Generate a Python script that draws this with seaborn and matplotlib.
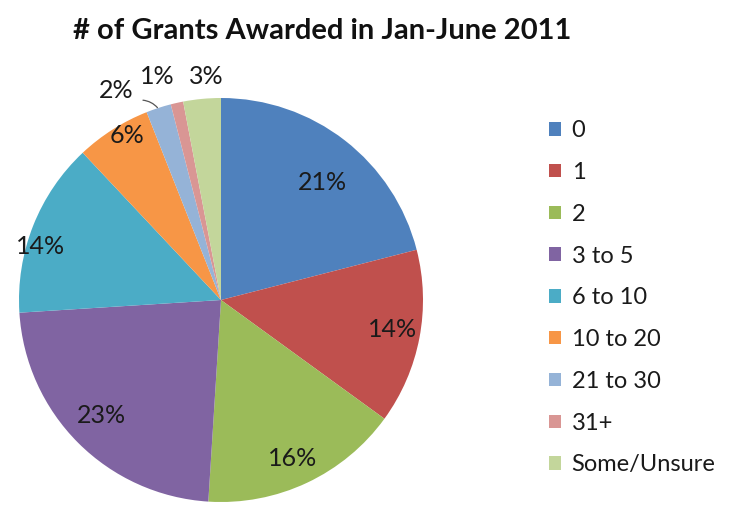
import numpy as np
import matplotlib
matplotlib.use("Agg")
import matplotlib.pyplot as plt
import seaborn as sns

# Survey data: number of grants awarded, Jan-June 2011
categories = ["0", "1", "2", "3 to 5", "6 to 10", "10 to 20", "21 to 30", "31+", "Some/Unsure"]
shares = [21, 14, 16, 23, 14, 6, 2, 1, 3]
colors = ["#4F81BD", "#C0504D", "#9BBB59", "#8064A2", "#4BACC6",
          "#F79646", "#95B3D7", "#D99694", "#C3D69B"]

# radial placement of each percentage label (fraction of radius)
label_dist = [0.77, 0.86, 0.86, 0.82, 0.93, 0.94, 1.16, 1.15, 1.11]
label_turn = [-3, 1, -1, -1, 5, -2.6, 8.6, 3.4, -1.6]  # angular nudges, degrees

sns.set_theme(style="white")
plt.rcParams["font.family"] = ["Lato", "DejaVu Sans"]

fig = plt.figure(figsize=(7.37, 5.12), dpi=100)
fig.patch.set_facecolor("white")

R = 202
cx, cy = 221, 512 - 300
ax = fig.add_axes([(cx - R) / 737, (cy - R) / 512, 2 * R / 737, 2 * R / 512])

palette = sns.color_palette(colors)
wedges, _ = ax.pie(shares, colors=palette, startangle=90, counterclock=False,
                   wedgeprops=dict(linewidth=0, edgecolor="white"), radius=1.0)
ax.set_xlim(-1, 1)
ax.set_ylim(-1, 1)
ax.set_aspect("equal")
ax.axis("off")

for w, v, d, t in zip(wedges, shares, label_dist, label_turn):
    mid = np.deg2rad((w.theta1 + w.theta2) / 2 + t)
    x, y = d * np.cos(mid), d * np.sin(mid)
    ax.text(x, y, f"{v}%", ha="center", va="center", fontsize=18,
            color="#1a1a1a", clip_on=False)

# leader line for the 2% slice
w2 = wedges[6]
a2 = np.deg2rad((w2.theta1 + w2.theta2) / 2)
ex, ey = 0.99 * np.cos(a2), 0.99 * np.sin(a2)
ax.annotate("", xy=(ex, ey), xytext=(-0.40, 0.99),
            arrowprops=dict(arrowstyle="-", color="#555555", lw=0.9,
                            connectionstyle="arc3,rad=-0.25"),
            annotation_clip=False)

fig.text(322 / 737, 1 - 31 / 512, "# of Grants Awarded in Jan-June 2011",
         ha="center", va="center", fontsize=21, fontweight="bold", color="#111111")

handles = [plt.Rectangle((0, 0), 1, 1, facecolor=c, edgecolor="none") for c in palette]
fig.legend(handles, categories, loc="upper left",
           bbox_to_anchor=(528 / 737, 1 - 99 / 512), frameon=False,
           fontsize=17, handlelength=0.5, handleheight=0.5,
           handletextpad=0.45, labelspacing=0.88, labelcolor="#1a1a1a")

fig.savefig("out.png", dpi=100, facecolor="white")
